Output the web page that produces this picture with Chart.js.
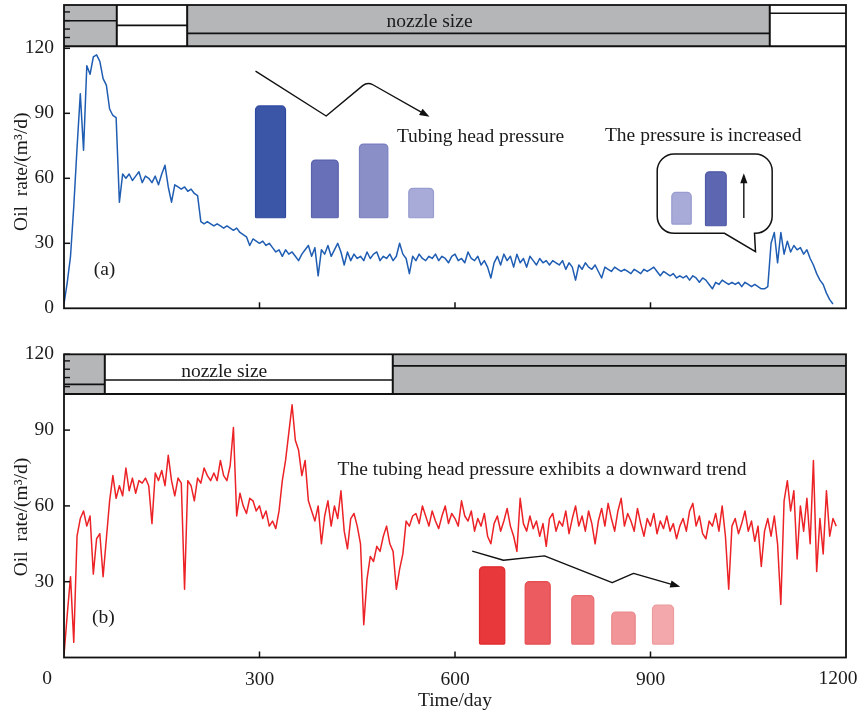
<!DOCTYPE html>
<html><head><meta charset="utf-8">
<script src="https://cdn.jsdelivr.net/npm/chart.js@4.4.1/dist/chart.umd.min.js"></script>
<style>
html,body{margin:0;padding:0;background:#fff;}
#wrap{position:relative;width:858px;height:714px;overflow:hidden;}
canvas{position:absolute;left:0;}
#c1{top:0;} #c2{top:330px;}
</style></head><body>
<div id="wrap"><canvas id="c1" width="858" height="330"></canvas><canvas id="c2" width="858" height="384"></canvas></div>
<script>
// ---------------- DATA ----------------
const STEP_DAYS = 5; // sampling interval of the series below (day 0, 5, 10, ...)
const oilRateA = [
 2,12,24,47,74,99,73,112,108,116, 117,114,106,103,92,89,88,49,62,60,
 62,59,61,63,58,61,60,58,61,57, 62,66,56,49,57,56,55,56,54,55,
 53,52,40,39,40,39,38,39,38,37, 38,37,36,37,35,34,33,29,32,31,
 30,31,29,30,28,26,27,24,27,25, 26,24,22,25,27,29,24,28,15,27,
 25,29,24,27,30,26,20,26,22,25, 23,24,22,26,23,25,26,22,24,23,
 25,22,24,30,25,23,16,24,22,25, 23,22,24,23,25,22,24,23,21,24,
 25,22,23,21,26,23,22,24,20,22, 19,14,21,24,20,25,22,24,19,25,
 21,23,19,24,22,20,23,21,22,20, 22,21,20,22,18,21,19,13,20,18,
 21,19,18,20,17,14,19,18,17,19, 18,17,18,17,16,18,17,16,18,17,
 18,19,17,15,17,16,15,16,14,15, 14,15,13,15,14,12,14,13,11,9,
 12,11,13,12,11,12,11,12,10,12, 11,10,11,10,9,9,10,30,35,21,
 35,25,31,26,29,27,28,25,27,23, 20,16,13,11,7,4,2
];
const oilRateB = [
 1,17,32,6,48,55,58,52,56,33, 47,49,32,47,62,72,63,68,64,75,
 66,71,65,70,69,71,68,53,73,70, 74,68,80,70,64,71,69,27,70,68,
 62,71,69,75,72,70,73,70,78,72, 70,76,91,56,65,60,57,63,62,58,
 60,55,58,52,54,51,58,70,78,89, 100,86,82,72,78,62,58,54,60,45,
 56,62,52,60,55,66,50,43,55,57, 52,45,13,31,40,38,44,42,48,52,
 45,42,27,35,41,54,52,56,57,53, 60,56,52,58,54,51,56,60,53,57,
 55,52,62,56,54,58,50,55,52,57, 48,45,53,56,50,54,59,52,48,42,
 63,53,50,56,51,54,48,53,44,55, 57,50,54,52,58,49,55,60,52,56,
 50,58,53,45,54,59,52,61,55,50, 58,63,52,57,54,50,59,53,48,55,
 52,57,49,54,51,56,50,53,47,52, 55,50,58,61,52,56,49,47,54,52,
 57,50,60,48,27,52,55,49,53,58, 50,54,46,52,36,50,55,48,56,45,
 21,62,70,58,66,39,60,50,63,45, 78,34,55,41,66,48,55,52
];
const xTickValues = [0, 300, 600, 900, 1200];
const yTickValuesA = [0, 30, 60, 90, 120];
const yTickValuesB = [30, 60, 90, 120];
// nozzle size bands (day boundaries and step level)
const nozzleEdgesA = [0, 81, 189, 1083, 1200];
const nozzleLevelsA = [132.7, 130.6, 126.9, 136.2];
const nozzleEdgesB = [0, 62.6, 504.5, 1200];
const nozzleLevelsB = [108.1, 109.8, 115.4];
// schematic tubing-head-pressure bars (relative heights)
const thpBarsA = [93.4, 68.4, 75.8, 55.4];
const thpBarsIncrease = [53.5, 63.0];
const thpBarsB = [35.9, 30.0, 24.5, 18.0, 20.7];

const daysA = oilRateA.map((_, i) => i * STEP_DAYS);
const daysB = oilRateB.map((_, i) => i * STEP_DAYS);

// ---------------- STYLE / LAYOUT ----------------
const SERIF = "'Liberation Serif','Times New Roman',serif";
const FS = 19.5;
const INK = '#1a1a1a';
const GRAY = '#b4b6b8';

const layoutA = {
  bandLo: 121, bandHi: 140, bandFills: [GRAY, '#ffffff', GRAY, '#ffffff'],
  bandTicks: [125, 128.9, 132.8, 136.8],
  bars: { spans: [[293.9,339.9],[379.8,420.8],[453.4,496.9],[529.1,567]], base: 41.8,
          fills: ['#3b56a6','#6870b7','#8a8fc8','#a8abd7'], strokes: ['#3049a0','#5862ad','#7a80bf','#989cce'] },
  arrow: [[293.9,109.5],[402.3,88.75],[465.7,104.6],[560.9,88.4]],
  callout: { l: 910.3, r: 1086.7, t: 71.2, b: 34.6, tail: [[1013.5,34.6],[1061.1,26.1],[1059.6,34.6]] },
  calloutBars: { spans: [[932.7,962.5],[984.4,1016.2]], bases: [38.9,38.1], fills: ['#a8abd7','#5d67b1'], strokes: ['#989cce','#4e58a6'] },
  calloutArrow: [[1043.2,41.7],[1043.2,62.3]],
  texts: [ ['nozzle size', 560.9, 132.1], ['Tubing head pressure', 639.1, 79.0], ['The pressure is increased', 980.9, 79.5], ['(a)', 62.1, 17.7] ],
  yTitleY: 171.7
};
const layoutB = {
  bandLo: 104.3, bandHi: 120, bandFills: [GRAY, '#ffffff', GRAY],
  bandTicks: [107.2, 110.8, 114.1, 117.4],
  bars: { spans: [[637.6,676.4],[707.7,746.1],[779.2,813.0],[840.6,876.5],[903.1,935.3]], base: 5.3,
          fills: ['#e8383b','#ec5b5f','#ef7b7e','#f19598','#f3a9ab'], strokes: ['#e0282c','#e44c50','#e96c70','#ea878a','#ec9a9d'] },
  arrow: [[626.4,42.1],[674.4,38.5],[737.3,40.2],[841.2,29.6],[873.9,33.3],[945.6,28.0]],
  texts: [ ['nozzle size', 245.8, 113.1], ['The tubing head pressure exhibits a downward trend', 733.5, 74.2], ['(b)', 60.6, 15.7] ],
  yTitleY: 187
};

function X(c, v){ return c.scales.x.getPixelForValue(v); }
function Y(c, v){ return c.scales.y.getPixelForValue(v); }

function line(ctx, x0, y0, x1, y1){ ctx.beginPath(); ctx.moveTo(x0, y0); ctx.lineTo(x1, y1); ctx.stroke(); }

function arrowHead(ctx, from, to){
  const a = Math.atan2(to.y - from.y, to.x - from.x), L = 10, W = 3.6;
  const bx = to.x - L * Math.cos(a), by = to.y - L * Math.sin(a);
  ctx.beginPath();
  ctx.moveTo(to.x, to.y);
  ctx.lineTo(bx - W * Math.sin(a), by + W * Math.cos(a));
  ctx.lineTo(bx + W * Math.sin(a), by - W * Math.cos(a));
  ctx.closePath(); ctx.fill();
}

function drawBand(c, edges, levels, L){
  const ctx = c.ctx; ctx.save();
  const top = Y(c, L.bandHi), bot = Y(c, L.bandLo);
  for (let i = 0; i < levels.length; i++){
    const x0 = X(c, edges[i]), x1 = X(c, edges[i+1]);
    ctx.fillStyle = L.bandFills[i]; ctx.fillRect(x0, top, x1 - x0, bot - top);
  }
  ctx.strokeStyle = '#111'; ctx.lineWidth = 1.6;
  for (let i = 0; i < levels.length; i++){
    const y = Y(c, levels[i]);
    line(ctx, X(c, edges[i]), y, X(c, edges[i+1]), y);
  }
  ctx.lineWidth = 2;
  for (let i = 1; i < edges.length - 1; i++){ const x = X(c, edges[i]); line(ctx, x, top, x, bot); }
  line(ctx, c.chartArea.left, bot, c.chartArea.right, bot);
  ctx.lineWidth = 1.4;
  L.bandTicks.forEach(t => { const y = Y(c, t); line(ctx, c.chartArea.left, y, c.chartArea.left + 6, y); });
  ctx.restore();
}

function drawFrameAndTicks(c, yTicks){
  const ctx = c.ctx, a = c.chartArea; ctx.save();
  ctx.strokeStyle = '#111'; ctx.lineWidth = 1.8;
  ctx.strokeRect(a.left, a.top, a.right - a.left, a.bottom - a.top);
  ctx.lineWidth = 1.5;
  xTickValues.slice(1, -1).forEach(v => { const x = X(c, v); line(ctx, x, a.bottom, x, a.bottom - 6); });
  yTicks.filter(v => v > 0).forEach(v => { const y = Y(c, v); line(ctx, a.left, y, a.left + 6, y); });
  ctx.restore();
}

function drawBars(c, spans, heights, bases, fills, strokes){
  const ctx = c.ctx; ctx.save(); ctx.lineWidth = 1.2;
  spans.forEach((s, i) => {
    const x0 = X(c, s[0]), x1 = X(c, s[1]);
    const base = Array.isArray(bases) ? bases[i] : bases;
    const yt = Y(c, heights[i]), yb = Y(c, base);
    ctx.beginPath(); ctx.roundRect(x0, yt, x1 - x0, yb - yt, [4, 4, 1, 1]);
    ctx.fillStyle = fills[i]; ctx.fill();
    ctx.strokeStyle = strokes[i]; ctx.stroke();
  });
  ctx.restore();
}

function drawPolyArrow(c, pts, roundAt){
  const ctx = c.ctx; ctx.save();
  ctx.strokeStyle = '#111'; ctx.fillStyle = '#111'; ctx.lineWidth = 1.4; ctx.lineJoin = 'round';
  const p = pts.map(q => ({ x: X(c, q[0]), y: Y(c, q[1]) }));
  const last = p[p.length - 1], prev = p[p.length - 2];
  const a = Math.atan2(last.y - prev.y, last.x - prev.x);
  const end = { x: last.x - 8 * Math.cos(a), y: last.y - 8 * Math.sin(a) };
  ctx.beginPath(); ctx.moveTo(p[0].x, p[0].y);
  for (let i = 1; i < p.length - 1; i++){
    if (roundAt === i) ctx.arcTo(p[i].x, p[i].y, p[i+1].x, p[i+1].y, 9);
    else ctx.lineTo(p[i].x, p[i].y);
  }
  ctx.lineTo(end.x, end.y); ctx.stroke();
  arrowHead(ctx, prev, last);
  ctx.restore();
}

function drawTexts(c, texts){
  const ctx = c.ctx; ctx.save();
  ctx.font = FS + 'px ' + SERIF; ctx.fillStyle = INK; ctx.textAlign = 'center'; ctx.textBaseline = 'middle';
  texts.forEach(t => ctx.fillText(t[0], X(c, t[1]), Y(c, t[2])));
  ctx.restore();
}

function drawYTitle(c, cy){
  const ctx = c.ctx; ctx.save();
  ctx.font = FS + 'px ' + SERIF; ctx.fillStyle = INK; ctx.textAlign = 'center'; ctx.textBaseline = 'middle';
  ctx.translate(22, cy); ctx.rotate(-Math.PI / 2);
  ctx.fillText('Oil  rate/(m\u00B3/d)', 0, 0);
  ctx.restore();
}

const decoA = {
  id: 'decoA',
  beforeDatasetsDraw(c){ drawBand(c, nozzleEdgesA, nozzleLevelsA, layoutA); },
  afterDatasetsDraw(c){
    const L = layoutA, ctx = c.ctx;
    drawBars(c, L.bars.spans, thpBarsA, L.bars.base, L.bars.fills, L.bars.strokes);
    drawPolyArrow(c, L.arrow, 2);
    const o = L.callout, l = X(c, o.l), r = X(c, o.r), t = Y(c, o.t), b = Y(c, o.b), R = 17;
    const t1 = { x: X(c, o.tail[0][0]), y: b }, tip = { x: X(c, o.tail[1][0]), y: Y(c, o.tail[1][1]) }, t3 = { x: X(c, o.tail[2][0]), y: b };
    ctx.save();
    ctx.beginPath();
    ctx.moveTo(l + R, t); ctx.lineTo(r - R, t); ctx.arcTo(r, t, r, t + R, R);
    ctx.lineTo(r, b - R); ctx.arcTo(r, b, t3.x, b, Math.min(R, r - t3.x));
    ctx.lineTo(t3.x, b); ctx.lineTo(tip.x, tip.y); ctx.lineTo(t1.x, b);
    ctx.lineTo(l + R, b); ctx.arcTo(l, b, l, b - R, R); ctx.lineTo(l, t + R); ctx.arcTo(l, t, l + R, t, R);
    ctx.closePath(); ctx.fillStyle = '#fff'; ctx.fill(); ctx.strokeStyle = '#111'; ctx.lineWidth = 1.5; ctx.stroke();
    ctx.restore();
    drawBars(c, L.calloutBars.spans, thpBarsIncrease, L.calloutBars.bases, L.calloutBars.fills, L.calloutBars.strokes);
    drawPolyArrow(c, L.calloutArrow, -1);
    drawTexts(c, L.texts);
  },
  afterDraw(c){ drawFrameAndTicks(c, yTickValuesA); drawYTitle(c, layoutA.yTitleY); }
};

const decoB = {
  id: 'decoB',
  beforeDatasetsDraw(c){ drawBand(c, nozzleEdgesB, nozzleLevelsB, layoutB); },
  afterDatasetsDraw(c){
    const L = layoutB;
    drawBars(c, L.bars.spans, thpBarsB, L.bars.base, L.bars.fills, L.bars.strokes);
    drawPolyArrow(c, L.arrow, -1);
    drawTexts(c, L.texts);
  },
  afterDraw(c){
    drawFrameAndTicks(c, yTickValuesB); drawYTitle(c, layoutB.yTitleY);
    const ctx = c.ctx; ctx.save();
    ctx.font = FS + 'px ' + SERIF; ctx.fillStyle = INK; ctx.textAlign = 'center'; ctx.textBaseline = 'middle';
    ctx.fillText(String(xTickValues[0]), X(c, xTickValues[0]) - 17, c.chartArea.bottom + 21.5);
    ctx.fillText(String(xTickValues[4]), X(c, xTickValues[4]) - 8, c.chartArea.bottom + 21.5);
    ctx.fillText('Time/day', (c.chartArea.left + c.chartArea.right) / 2, c.chartArea.bottom + 43);
    ctx.restore();
  }
};

function zeroPad(s){ s.paddingTop = 0; s.paddingBottom = 0; s.paddingLeft = 0; s.paddingRight = 0; }

function makeChart(id, days, vals, color, yMax, yTicks, showX, xAxisH, padTop, deco){
  return new Chart(document.getElementById(id), {
    type: 'line',
    data: { datasets: [{ data: days.map((d, i) => ({ x: d, y: vals[i] })), borderColor: color, borderWidth: 1.5,
                         pointRadius: 0, tension: 0, fill: false, borderJoinStyle: 'round' }] },
    options: {
      responsive: false, animation: false, devicePixelRatio: 1,
      layout: { padding: { top: padTop, right: 12, left: 0, bottom: 0 } },
      plugins: { legend: { display: false }, tooltip: { enabled: false } },
      scales: {
        x: { type: 'linear', min: 0, max: 1200,
             afterBuildTicks: s => { s.ticks = xTickValues.map(v => ({ value: v })); },
             afterFit: s => { s.height = xAxisH; zeroPad(s); },
             grid: { display: false, drawTicks: false }, border: { display: false },
             ticks: { display: showX, padding: 11, maxRotation: 0, autoSkip: false, color: INK,
                      font: { family: SERIF, size: FS },
                      callback: v => (v === xTickValues[0] || v === xTickValues[4] ? '' : String(v)) } },
        y: { type: 'linear', min: 0, max: yMax,
             afterBuildTicks: s => { s.ticks = yTicks.map(v => ({ value: v })); },
             afterFit: s => { s.width = 64; zeroPad(s); },
             grid: { display: false, drawTicks: false }, border: { display: false },
             ticks: { padding: 10, color: INK, font: { family: SERIF, size: FS } } }
      }
    },
    plugins: [deco]
  });
}

makeChart('c1', daysA, oilRateA, '#1f5db3', 140, yTickValuesA, false, 21.7, 5, decoA);
makeChart('c2', daysB, oilRateB, '#ec2226', 120, yTickValuesB, true, 56.5, 24.3, decoB);
</script>
</body></html>
